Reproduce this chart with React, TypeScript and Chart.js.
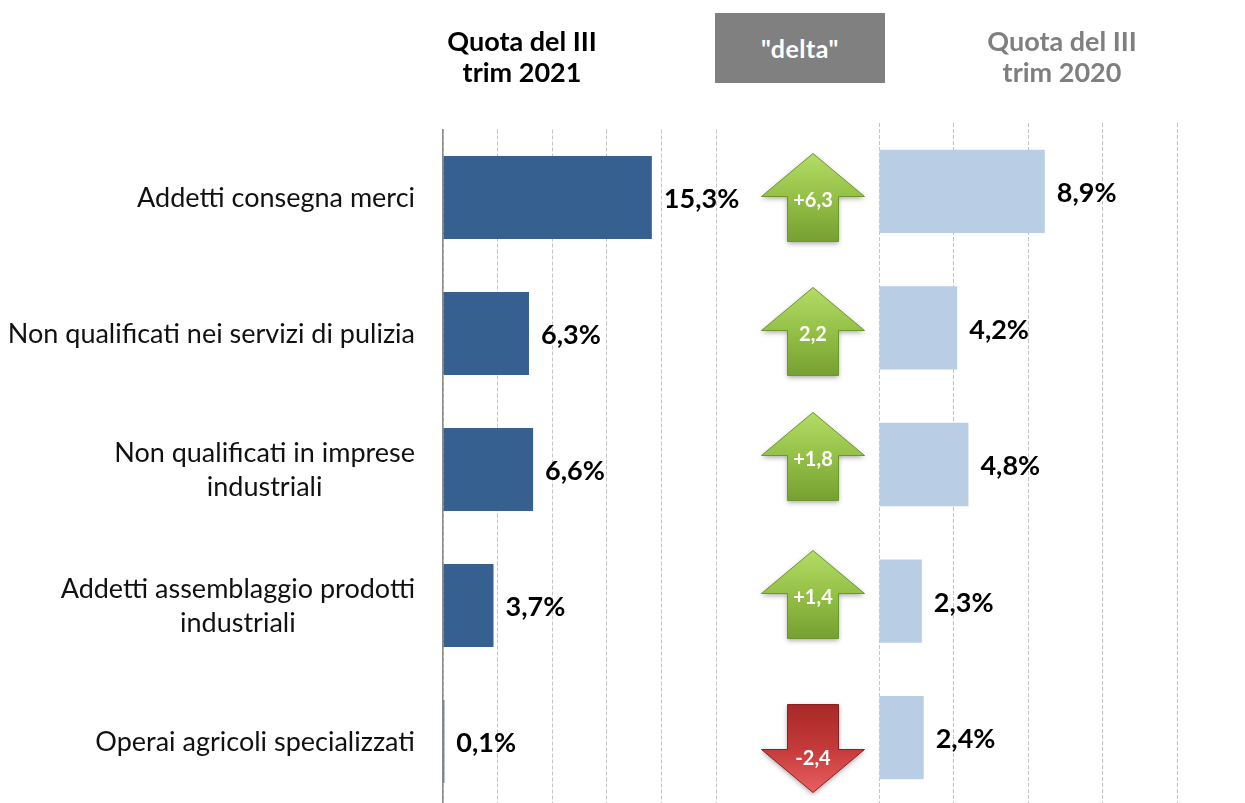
import React, { useEffect, useRef } from 'react';
import { Chart, registerables } from 'chart.js';

Chart.register(...registerables);

// ---------- data ----------
const categories: string[][] = [
  ['Addetti consegna merci'],
  ['Non qualificati nei servizi di pulizia'],
  ['Non qualificati in imprese', 'industriali'],
  ['Addetti assemblaggio prodotti', 'industriali'],
  ['Operai agricoli specializzati'],
];
const share2021 = [15.3, 6.3, 6.6, 3.7, 0.1];
const share2020 = [8.9, 4.2, 4.8, 2.3, 2.4];
const deltaLabels = ['+6,3', '2,2', '+1,8', '+1,4', '-2,4'];
const deltaUp = [true, true, true, true, false];

const header2021 = ['Quota del III', 'trim 2021'];
const header2020 = ['Quota del III', 'trim 2020'];
const headerDelta = '"delta"';

// ---------- style ----------
const W = 1245;
const H = 820;
const FONT = 'Lato, "Noto Sans", sans-serif';
const arrowNudge = [0, -2, -13, -11, 7];

const fmt = (v: number) => v.toFixed(1).replace('.', ',') + '%';

const valueLabelPlugin = {
  id: 'valueLabels',
  afterDatasetsDraw(chart: any) {
    const ctx = chart.ctx;
    const meta = chart.getDatasetMeta(0);
    const data = chart.data.datasets[0].data as number[];
    ctx.save();
    ctx.font = `bold 27px ${FONT}`;
    ctx.fillStyle = '#000';
    ctx.textAlign = 'left';
    ctx.textBaseline = 'middle';
    meta.data.forEach((el: any, i: number) => {
      ctx.fillText(fmt(data[i]), el.x + 12, el.y + 2);
    });
    ctx.restore();
  },
};

const categoryLabelPlugin = {
  id: 'categoryLabels',
  afterDraw(chart: any) {
    const ctx = chart.ctx;
    const y = chart.scales.y;
    const right = chart.chartArea.left - 28;
    ctx.save();
    ctx.font = `27px ${FONT}`;
    ctx.fillStyle = '#111';
    ctx.textAlign = 'center';
    ctx.textBaseline = 'middle';
    const lh = 34;
    (chart.data.labels as string[][]).forEach((lines, i) => {
      const cy = y.getPixelForValue(i);
      const maxW = Math.max(...lines.map((l) => ctx.measureText(l).width));
      const cx = right - maxW / 2;
      const start = cy - ((lines.length - 1) * lh) / 2;
      lines.forEach((l, k) => ctx.fillText(l, cx, start + k * lh + 1));
    });
    ctx.restore();
  },
};

const arrowPlugin = {
  id: 'deltaArrows',
  afterDraw(chart: any) {
    const ctx = chart.ctx;
    const y = chart.scales.y;
    const cx = 813;
    const headW = 103;
    const shaftW = 51;
    const headH = 43;
    const shaftH = 45;
    deltaLabels.forEach((lab, i) => {
      const up = deltaUp[i];
      const cy = y.getPixelForValue(i) + arrowNudge[i];
      const top = cy - (headH + shaftH) / 2;
      const bot = top + headH + shaftH;
      ctx.save();
      ctx.beginPath();
      if (up) {
        const sh = top + headH;
        ctx.moveTo(cx, top);
        ctx.lineTo(cx + headW / 2, sh);
        ctx.lineTo(cx + shaftW / 2, sh);
        ctx.lineTo(cx + shaftW / 2, bot);
        ctx.lineTo(cx - shaftW / 2, bot);
        ctx.lineTo(cx - shaftW / 2, sh);
        ctx.lineTo(cx - headW / 2, sh);
      } else {
        const sh = top + shaftH;
        ctx.moveTo(cx - shaftW / 2, top);
        ctx.lineTo(cx + shaftW / 2, top);
        ctx.lineTo(cx + shaftW / 2, sh);
        ctx.lineTo(cx + headW / 2, sh);
        ctx.lineTo(cx, bot);
        ctx.lineTo(cx - headW / 2, sh);
        ctx.lineTo(cx - shaftW / 2, sh);
      }
      ctx.closePath();
      const g = ctx.createLinearGradient(0, top, 0, bot);
      if (up) {
        g.addColorStop(0, '#b4dc66');
        g.addColorStop(0.5, '#94c046');
        g.addColorStop(1, '#76a032');
      } else {
        g.addColorStop(0, '#a82828');
        g.addColorStop(0.5, '#c43a3a');
        g.addColorStop(1, '#ea6060');
      }
      ctx.shadowColor = 'rgba(0,0,0,0.35)';
      ctx.shadowBlur = 5;
      ctx.shadowOffsetY = 2;
      ctx.fillStyle = g;
      ctx.fill();
      ctx.shadowColor = 'transparent';
      ctx.lineWidth = 1;
      ctx.strokeStyle = up ? '#6e962e' : '#8c2020';
      ctx.stroke();
      ctx.font = `bold 20px ${FONT}`;
      ctx.fillStyle = '#fff';
      ctx.textAlign = 'center';
      ctx.textBaseline = 'middle';
      ctx.fillText(lab, cx, cy + (up ? 3 : 10));
      ctx.restore();
    });
  },
};

function makeOptions(left: number, right: number, top: number, bottom: number, max: number, axisLine: boolean) {
  return {
    indexAxis: 'y' as const,
    responsive: false,
    animation: false as const,
    layout: { padding: { left, right: W - right, top, bottom: H - bottom } },
    plugins: { legend: { display: false }, tooltip: { enabled: false }, title: { display: false } },
    scales: {
      x: {
        min: 0,
        max,
        ticks: { display: false, stepSize: 4 },
        grid: { color: '#c4c4c4', lineWidth: 1, drawTicks: false, tickLength: 0 },
        border: { display: false, dash: [4, 2] },
      },
      y: {
        ticks: { display: false },
        grid: { display: false, drawTicks: false, tickLength: 0 },
        border: { display: axisLine, color: '#8a8a8a', width: 1.5 },
      },
    },
  };
}

export default function App() {
  const leftRef = useRef<HTMLCanvasElement>(null);
  const rightRef = useRef<HTMLCanvasElement>(null);

  useEffect(() => {
    const left = new Chart(leftRef.current!, {
      type: 'bar',
      data: {
        labels: categories as any,
        datasets: [
          {
            data: share2021,
            backgroundColor: '#36608f',
            barPercentage: 0.61,
            categoryPercentage: 1,
          },
        ],
      },
      options: makeOptions(443, 716, 129.5, 809.5, 20, true) as any,
      plugins: [valueLabelPlugin, categoryLabelPlugin, arrowPlugin],
    });
    const right = new Chart(rightRef.current!, {
      type: 'bar',
      data: {
        labels: categories as any,
        datasets: [
          {
            data: share2020,
            backgroundColor: '#b9cde5',
            barPercentage: 0.61,
            categoryPercentage: 1,
          },
        ],
      },
      options: makeOptions(879, 1177, 123, 806, 16, false) as any,
      plugins: [valueLabelPlugin],
    });
    return () => {
      left.destroy();
      right.destroy();
    };
  }, []);

  const headerStyle: React.CSSProperties = {
    position: 'absolute',
    top: 25,
    width: 260,
    textAlign: 'center',
    font: `bold 27px/31px ${FONT}`,
  };

  return (
    <div
      style={{
        position: 'fixed',
        left: 0,
        top: 0,
        width: W,
        height: 803,
        overflow: 'hidden',
        background: '#fff',
      }}
    >
      <canvas ref={leftRef} width={W} height={H} style={{ position: 'absolute', left: 0, top: 0 }} />
      <canvas ref={rightRef} width={W} height={H} style={{ position: 'absolute', left: 0, top: 0 }} />
      <div style={{ ...headerStyle, left: 522 - 130, color: '#000' }}>
        {header2021.map((l) => (
          <div key={l}>{l}</div>
        ))}
      </div>
      <div style={{ ...headerStyle, left: 1062 - 130, color: '#7f7f7f' }}>
        {header2020.map((l) => (
          <div key={l}>{l}</div>
        ))}
      </div>
      <div
        style={{
          position: 'absolute',
          left: 715,
          top: 13,
          width: 170,
          height: 70,
          background: '#808080',
          color: '#fff',
          display: 'flex',
          alignItems: 'center',
          justifyContent: 'center',
          font: `bold 25px ${FONT}`,
          letterSpacing: 0.5,
        }}
      >
        {headerDelta}
      </div>
    </div>
  );
}
